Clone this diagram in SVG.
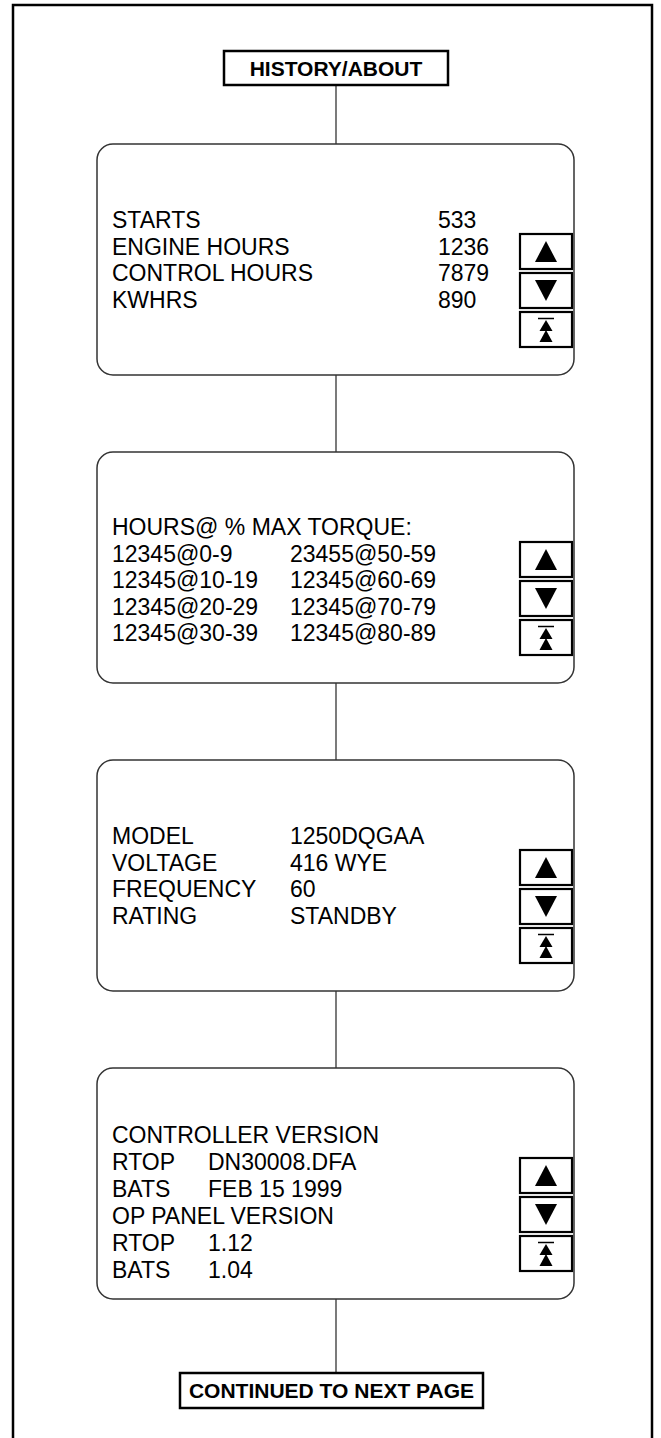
<svg xmlns="http://www.w3.org/2000/svg" width="661" height="1438" viewBox="0 0 661 1438">
<style>
.frame{fill:none;stroke:#000;stroke-width:2.5}
.title{fill:#fff;stroke:#000;stroke-width:2.5}
.screen{fill:#fff;stroke:#333;stroke-width:1.5}
.btn{fill:#fff;stroke:#000;stroke-width:2.2}
.conn{stroke:#333;stroke-width:1.3;fill:none}
.t{font-family:"Liberation Sans",Arial,sans-serif;font-size:23px;fill:#000}
.tb{font-family:"Liberation Sans",Arial,sans-serif;font-size:21px;font-weight:bold;fill:#000;text-anchor:middle}
.ico{fill:#000}
</style>
<defs>
<g id="buttons">
<rect class="btn" x="520" y="0" width="52" height="35"/>
<polygon class="ico" points="546,7 535,28 557,28"/>
<rect class="btn" x="520" y="39" width="52" height="35"/>
<polygon class="ico" points="535,46 557,46 546,67"/>
<rect class="btn" x="520" y="78" width="52" height="35"/>
<line x1="538" y1="84.5" x2="554" y2="84.5" stroke="#000" stroke-width="1.5"/>
<polygon class="ico" points="546,86 539.5,97 552.5,97"/>
<polygon class="ico" points="546,96 539.5,108 552.5,108"/>
</g>
</defs>
<rect class="frame" x="13" y="5" width="639" height="1445"/>
<g id="connectors">
<line class="conn" x1="336" y1="85" x2="336" y2="144"/>
<line class="conn" x1="336" y1="375" x2="336" y2="452"/>
<line class="conn" x1="336" y1="683" x2="336" y2="760"/>
<line class="conn" x1="336" y1="991" x2="336" y2="1068"/>
<line class="conn" x1="336" y1="1299" x2="336" y2="1373"/>
</g>
<g id="history-about">
<rect class="title" x="224" y="51" width="224" height="34"/>
<text class="tb" x="336" y="76" font-size="23">HISTORY/ABOUT</text>
</g>
<g id="screen1">
<rect class="screen" x="97" y="144" width="477" height="231" rx="16"/>
<text class="t" x="112" y="228">STARTS</text><text class="t" x="438" y="228">533</text>
<text class="t" x="112" y="254.5">ENGINE HOURS</text><text class="t" x="438" y="254.5">1236</text>
<text class="t" x="112" y="281">CONTROL HOURS</text><text class="t" x="438" y="281">7879</text>
<text class="t" x="112" y="307.5">KWHRS</text><text class="t" x="438" y="307.5">890</text>
<use href="#buttons" y="234"/>
</g>
<g id="screen2">
<rect class="screen" x="97" y="452" width="477" height="231" rx="16"/>
<text class="t" x="112" y="535">HOURS@ % MAX TORQUE:</text>
<text class="t" x="112" y="561.5">12345@0-9</text><text class="t" x="290" y="561.5">23455@50-59</text>
<text class="t" x="112" y="588">12345@10-19</text><text class="t" x="290" y="588">12345@60-69</text>
<text class="t" x="112" y="614.5">12345@20-29</text><text class="t" x="290" y="614.5">12345@70-79</text>
<text class="t" x="112" y="641">12345@30-39</text><text class="t" x="290" y="641">12345@80-89</text>
<use href="#buttons" y="542"/>
</g>
<g id="screen3">
<rect class="screen" x="97" y="760" width="477" height="231" rx="16"/>
<text class="t" x="112" y="844">MODEL</text><text class="t" x="290" y="844">1250DQGAA</text>
<text class="t" x="112" y="870.5">VOLTAGE</text><text class="t" x="290" y="870.5">416 WYE</text>
<text class="t" x="112" y="897">FREQUENCY</text><text class="t" x="290" y="897">60</text>
<text class="t" x="112" y="923.5">RATING</text><text class="t" x="290" y="923.5">STANDBY</text>
<use href="#buttons" y="850"/>
</g>
<g id="screen4">
<rect class="screen" x="97" y="1068" width="477" height="231" rx="16"/>
<text class="t" x="112" y="1143">CONTROLLER VERSION</text>
<text class="t" x="112" y="1170">RTOP</text><text class="t" x="208" y="1170">DN30008.DFA</text>
<text class="t" x="112" y="1197">BATS</text><text class="t" x="208" y="1197">FEB 15 1999</text>
<text class="t" x="112" y="1224">OP PANEL VERSION</text>
<text class="t" x="112" y="1251">RTOP</text><text class="t" x="208" y="1251">1.12</text>
<text class="t" x="112" y="1278">BATS</text><text class="t" x="208" y="1278">1.04</text>
<use href="#buttons" y="1158"/>
</g>
<g id="continued">
<rect class="title" x="180" y="1373" width="303" height="35"/>
<text class="tb" x="331.5" y="1397.5">CONTINUED TO NEXT PAGE</text>
</g>
</svg>
